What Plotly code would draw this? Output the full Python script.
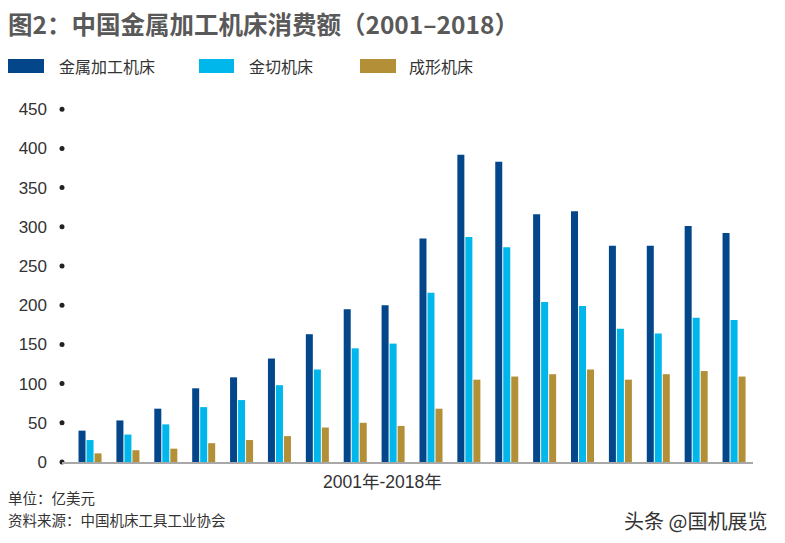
import plotly.graph_objects as go

years = list(range(2001, 2019))
metal = [40, 53, 68, 94, 108, 132, 163, 195, 200, 285, 392, 383, 316, 320, 276, 276, 301, 292]
cutting = [28, 35, 48, 70, 79, 98, 118, 145, 151, 216, 287, 274, 204, 199, 170, 164, 184, 181]
forming = [11, 15, 17, 24, 28, 33, 44, 50, 46, 68, 105, 109, 112, 118, 105, 112, 116, 109]
series_names = ["金属加工机床", "金切机床", "成形机床"]
y_ticks = [0, 50, 100, 150, 200, 250, 300, 350, 400, 450]
x_title = "2001年-2018年"

colors = ["#03468a", "#00b7ec", "#b38f37"]
FONT = "Liberation Sans, Arial, Noto Sans CJK SC"
CJK = "Noto Sans CJK SC, Liberation Sans"

W, H = 785, 543
ML, MR, MT, MB = 62, 32, 101, 81
PW, PH = W - ML - MR, H - MT - MB


def px(x):
    return (x - ML) / PW


def py(y):
    return (H - MB - y) / PH


fig = go.Figure()
for name, vals, c in zip(series_names, [metal, cutting, forming], colors):
    fig.add_trace(go.Bar(x=years, y=vals, name=name, marker=dict(color=c, line=dict(width=0)),
                         showlegend=False))

x0 = 2000.26
fig.add_trace(go.Scatter(x=[x0] * len(y_ticks), y=y_ticks, mode="markers",
                         marker=dict(color="#222222", size=5), cliponaxis=False,
                         showlegend=False, hoverinfo="skip"))

fig.update_layout(
    width=W, height=H,
    margin=dict(l=ML, r=MR, t=MT, b=MB),
    plot_bgcolor="white", paper_bgcolor="white",
    barmode="group", bargap=0.366, bargroupgap=0.125,
    font=dict(family=FONT, color="#333333"),
    xaxis=dict(range=[x0, 2018.5], showticklabels=False, ticks="", showgrid=False,
               showline=True, linecolor="#a8a8a8", linewidth=2, zeroline=False),
    yaxis=dict(range=[0, 460.5], tickvals=y_ticks, showgrid=False, zeroline=False,
               showline=False, ticks="", ticklabelstandoff=14,
               tickfont=dict(size=17, family=FONT, color="#333333")),
)

shapes = []
ann = []
ann.append(dict(text="<b>图2：中国金属加工机床消费额（2001–2018）</b>", x=px(6), y=py(23),
                xref="paper", yref="paper", xanchor="left", yanchor="middle", showarrow=False,
                font=dict(size=24.5, family=CJK, color="#595959")))
legend_pos = [(8, 44, 57), (199, 234, 247), (360, 396, 407)]
for (sx0, sx1, tx), name, c in zip(legend_pos, series_names, colors):
    shapes.append(dict(type="rect", xref="paper", yref="paper", x0=px(sx0), x1=px(sx1),
                       y0=py(73), y1=py(59), fillcolor=c, line=dict(width=0)))
    ann.append(dict(text=name, x=px(tx), y=py(66), xref="paper", yref="paper",
                    xanchor="left", yanchor="middle", showarrow=False,
                    font=dict(size=16, family=CJK, color="#333333")))
ann.append(dict(text=x_title, x=px(382), y=py(482), xref="paper", yref="paper",
                xanchor="center", yanchor="middle", showarrow=False,
                font=dict(size=17.5, family=FONT, color="#333333")))
ann.append(dict(text="单位：亿美元", x=px(6), y=py(497), xref="paper", yref="paper",
                xanchor="left", yanchor="middle", showarrow=False,
                font=dict(size=14.5, family=CJK, color="#333333")))
ann.append(dict(text="资料来源：中国机床工具工业协会", x=px(6), y=py(519), xref="paper", yref="paper",
                xanchor="left", yanchor="middle", showarrow=False,
                font=dict(size=14.5, family=CJK, color="#333333")))
ann.append(dict(text="头条 @国机展览", x=px(769), y=py(520), xref="paper", yref="paper",
                xanchor="right", yanchor="middle", showarrow=False,
                font=dict(size=20, family=CJK, color="#333333")))
fig.update_layout(shapes=shapes, annotations=ann)

fig.write_html("out.html", config={"displayModeBar": False},
               post_script="document.body.style.margin='0';")
